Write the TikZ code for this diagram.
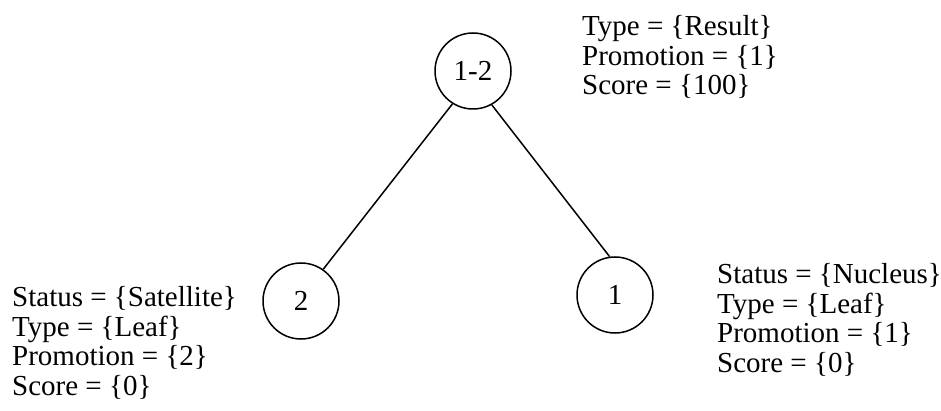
\documentclass[tikz,border=0pt]{standalone}
\usepackage{fontspec}
\setmainfont{Liberation Serif}
\begin{document}
\begin{tikzpicture}[x=1pt,y=-1pt,
  treenode/.style={draw,circle,line width=1.5pt,minimum size=76pt,inner sep=0pt,
    font=\fontsize{29}{29.5}\selectfont},
  attrs/.style={anchor=base west,align=left,inner sep=0pt,
    font=\fontsize{29}{29.5}\selectfont},
  edge/.style={line width=1.5pt}]
  \useasboundingbox (0,0) rectangle (941,411);

  % tree nodes
  \node[treenode] (n12) at (473,71) {1-2};
  \node[treenode] (n2) at (301,301) {2};
  \node[treenode] (n1) at (615,295) {1};

  % branches
  \draw[edge] (n12.238) -- (n2.55);
  \draw[edge] (n12.299) -- (n1.98);

  % attribute lists (anchored at the baseline of the last line)
  \node[attrs] (a12) at (582,95) {Type = \{Result\}\\Promotion = \{1\}\\Score = \{100\}};
  \node[attrs] (a2) at (12,395) {Status = \{Satellite\}\\Type = \{Leaf\}\\Promotion = \{2\}\\Score = \{0\}};
  \node[attrs] (a1) at (717,372) {Status = \{Nucleus\}\\Type = \{Leaf\}\\Promotion = \{1\}\\Score = \{0\}};
\end{tikzpicture}
\end{document}
